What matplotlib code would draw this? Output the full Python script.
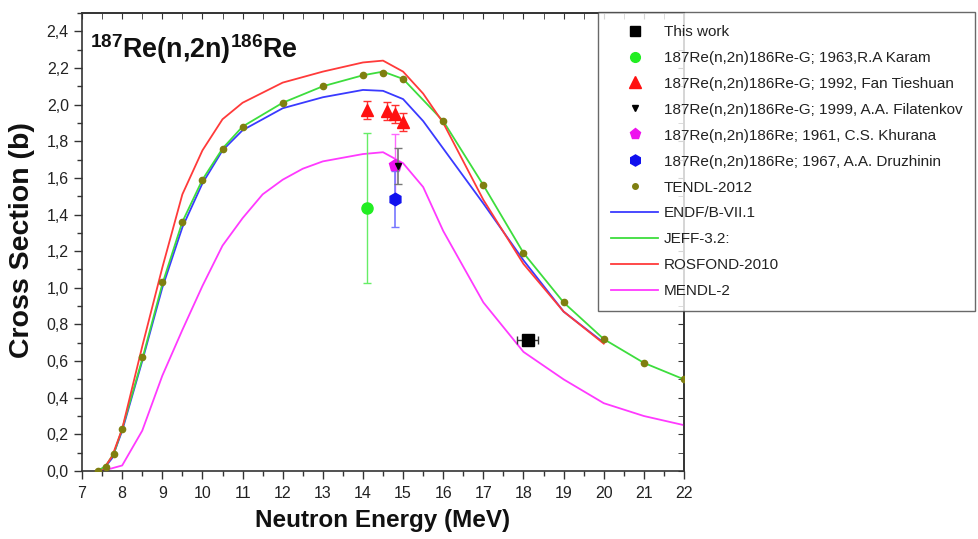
import numpy as np
import matplotlib.pyplot as plt
from matplotlib.lines import Line2D
from matplotlib.ticker import MultipleLocator, FuncFormatter

plt.rcParams['font.family'] = ['Liberation Sans', 'DejaVu Sans']
plt.rcParams['mathtext.default'] = 'regular'

# TENDL-2012 points (and JEFF-3.2 curve, nearly identical)
e_tendl = [7.4, 7.6, 7.8, 8.0, 8.5, 9, 9.5, 10, 10.5, 11, 12, 13, 14, 14.5, 15, 16, 17, 18, 19, 20, 21, 22]
xs_tendl = [0.0, 0.02, 0.09, 0.23, 0.62, 1.03, 1.36, 1.59, 1.76, 1.88, 2.01, 2.10, 2.16, 2.17, 2.14, 1.91, 1.56, 1.19, 0.92, 0.72, 0.59, 0.50]

e_jeff = [7.4, 7.6, 7.8, 8.0, 8.5, 9, 9.5, 10, 10.5, 11, 12, 13, 14, 14.5, 15, 16, 17, 18, 19, 20, 21, 22]
xs_jeff = [0.0, 0.03, 0.10, 0.23, 0.61, 1.02, 1.36, 1.59, 1.76, 1.88, 2.01, 2.10, 2.16, 2.18, 2.14, 1.91, 1.56, 1.19, 0.92, 0.72, 0.59, 0.50]

e_endf = [7.5, 7.75, 8, 8.5, 9, 9.5, 10, 10.5, 11, 12, 13, 14, 14.5, 15, 15.5, 16, 16.5, 17, 18, 19, 20]
xs_endf = [0.0, 0.07, 0.22, 0.60, 1.00, 1.33, 1.57, 1.75, 1.86, 1.98, 2.04, 2.08, 2.075, 2.03, 1.91, 1.76, 1.61, 1.46, 1.15, 0.87, 0.70]

e_ros = [7.5, 7.75, 8, 8.5, 9, 9.5, 10, 10.5, 11, 12, 13, 14, 14.5, 15, 15.5, 16, 17, 18, 19, 20]
xs_ros = [0.0, 0.08, 0.23, 0.68, 1.11, 1.51, 1.75, 1.92, 2.01, 2.12, 2.18, 2.23, 2.24, 2.18, 2.06, 1.90, 1.48, 1.13, 0.87, 0.695]

e_mendl = [7.5, 8, 8.5, 9, 9.5, 10, 10.5, 11, 11.5, 12, 12.5, 13, 13.5, 14, 14.5, 15, 15.5, 16, 17, 18, 19, 20, 21, 22]
xs_mendl = [0.0, 0.03, 0.22, 0.52, 0.77, 1.01, 1.23, 1.38, 1.51, 1.59, 1.65, 1.69, 1.71, 1.73, 1.74, 1.68, 1.55, 1.31, 0.92, 0.65, 0.50, 0.37, 0.30, 0.25]

# experimental data
this_e, this_xs, this_de = [18.1], [0.713], [0.27]
karam_e, karam_xs, karam_err = [14.1], [1.435], [0.41]
fan_e = [14.1, 14.6, 14.8, 15.0]
fan_xs = [1.97, 1.965, 1.95, 1.905]
fan_err = [0.05, 0.05, 0.05, 0.05]
fila_e, fila_xs, fila_err = [14.88], [1.665], [0.10]
khur_e, khur_xs, khur_err = [14.8], [1.67], [0.17]
druz_e, druz_xs, druz_err = [14.8], [1.485], [0.155]

fig = plt.figure(figsize=(9.79, 5.39), dpi=100)
ax = fig.add_axes([0.0838, 0.1262, 0.6149, 0.8497])

ax.plot(e_endf, xs_endf, color='#3a3aff', lw=1.3)
ax.plot(e_jeff, xs_jeff, color='#3ddd3d', lw=1.3)
ax.plot(e_ros, xs_ros, color='#ff3a3a', lw=1.3)
ax.plot(e_mendl, xs_mendl, color='#ff3aff', lw=1.3)
ax.plot(e_tendl, xs_tendl, 'o', color='#7f7f10', ms=4.5, ls='none', zorder=4)

ax.errorbar(karam_e, karam_xs, yerr=karam_err, fmt='o', color='#22ee22', ms=8,
            ecolor='#66ee66', elinewidth=1, capsize=3, zorder=5)
ax.errorbar(fan_e, fan_xs, yerr=fan_err, fmt='^', color='#ff1010', ms=9,
            ecolor='#ff3030', elinewidth=1, capsize=3, zorder=5)
ax.errorbar(khur_e, khur_xs, yerr=khur_err, fmt='p', color='#ee10ee', ms=9,
            ecolor='#ff66ff', elinewidth=1, capsize=3, zorder=5)
ax.errorbar(fila_e, fila_xs, yerr=fila_err, fmt='v', color='black', ms=4,
            ecolor='#777777', elinewidth=1.2, capsize=3, zorder=6)
ax.errorbar(druz_e, druz_xs, yerr=druz_err, fmt='h', color='#1010ee', ms=9,
            ecolor='#7777ff', elinewidth=1.2, capsize=3, zorder=5)
ax.errorbar(this_e, this_xs, xerr=this_de, fmt='s', color='black', ms=8,
            ecolor='#333333', elinewidth=1, capsize=3, zorder=6)

ax.set_xlim(7, 22)
ax.set_ylim(0, 2.5)
ax.xaxis.set_major_locator(MultipleLocator(1))
ax.xaxis.set_minor_locator(MultipleLocator(0.5))
ax.yaxis.set_major_locator(MultipleLocator(0.2))
ax.yaxis.set_minor_locator(MultipleLocator(0.1))
ax.yaxis.set_major_formatter(FuncFormatter(lambda v, p: f'{v:.1f}'.replace('.', ',')))
ax.tick_params(which='major', direction='out', length=6, width=1, labelsize=11.5,
               labelcolor='#222222', color='#333333')
ax.tick_params(which='minor', direction='out', length=3.5, width=1, color='#333333')
ax.tick_params(axis='x', pad=5)

# top and right ticks point inward
secx = ax.secondary_xaxis('top')
secx.xaxis.set_major_locator(MultipleLocator(1))
secx.xaxis.set_minor_locator(MultipleLocator(0.5))
secx.tick_params(which='both', direction='in', length=4, labeltop=False, color='#333333')
secy = ax.secondary_yaxis('right')
secy.yaxis.set_major_locator(MultipleLocator(0.2))
secy.yaxis.set_minor_locator(MultipleLocator(0.1))
secy.tick_params(which='both', direction='in', length=4, labelright=False, color='#333333')
for s in list(ax.spines.values()) + [secx.spines['top'], secy.spines['right']]:
    s.set_linewidth(1.2)
    s.set_color('#333333')

ax.set_xlabel('Neutron Energy (MeV)', fontsize=17.5, fontweight='bold', color='#111111')
ax.set_ylabel('Cross Section (b)', fontsize=20.5, fontweight='bold', color='#111111')
ax.xaxis.set_label_coords(0.5, -0.083)
ax.yaxis.set_label_coords(-0.078, 0.505)

ax.text(0.013, 0.902, r'$^{187}$Re(n,2n)$^{186}$Re', transform=ax.transAxes,
        fontsize=19.4, fontweight='bold', color='#111111', va='baseline')

# legend proxies
handles = [
    Line2D([], [], ls='none', marker='s', color='black', ms=7),
    Line2D([], [], ls='none', marker='o', color='#22ee22', ms=7),
    Line2D([], [], ls='none', marker='^', color='#ff1010', ms=8),
    Line2D([], [], ls='none', marker='v', color='black', ms=4),
    Line2D([], [], ls='none', marker='p', color='#ee10ee', ms=8),
    Line2D([], [], ls='none', marker='h', color='#1010ee', ms=8),
    Line2D([], [], ls='none', marker='o', color='#7f7f10', ms=4),
    Line2D([], [], color='#3a3aff', lw=1.3),
    Line2D([], [], color='#3ddd3d', lw=1.3),
    Line2D([], [], color='#ff3a3a', lw=1.3),
    Line2D([], [], color='#ff3aff', lw=1.3),
]
labels = ['This work',
          '187Re(n,2n)186Re-G; 1963,R.A Karam',
          '187Re(n,2n)186Re-G; 1992, Fan Tieshuan',
          '187Re(n,2n)186Re-G; 1999, A.A. Filatenkov',
          '187Re(n,2n)186Re; 1961, C.S. Khurana',
          '187Re(n,2n)186Re; 1967, A.A. Druzhinin',
          'TENDL-2012', 'ENDF/B-VII.1', 'JEFF-3.2:', 'ROSFOND-2010', 'MENDL-2']
leg = fig.legend(handles, labels, loc='upper left', bbox_to_anchor=(0.6108, 0.9777),
                 fontsize=11, frameon=True, fancybox=False, borderaxespad=0,
                 borderpad=0.85, labelspacing=0.78, handlelength=3.1, handletextpad=0.35)
leg.get_frame().set_edgecolor('#444444')
leg.get_frame().set_linewidth(1.0)
for t in leg.get_texts():
    t.set_color('#222222')

fig.savefig('out.png', dpi=100)
